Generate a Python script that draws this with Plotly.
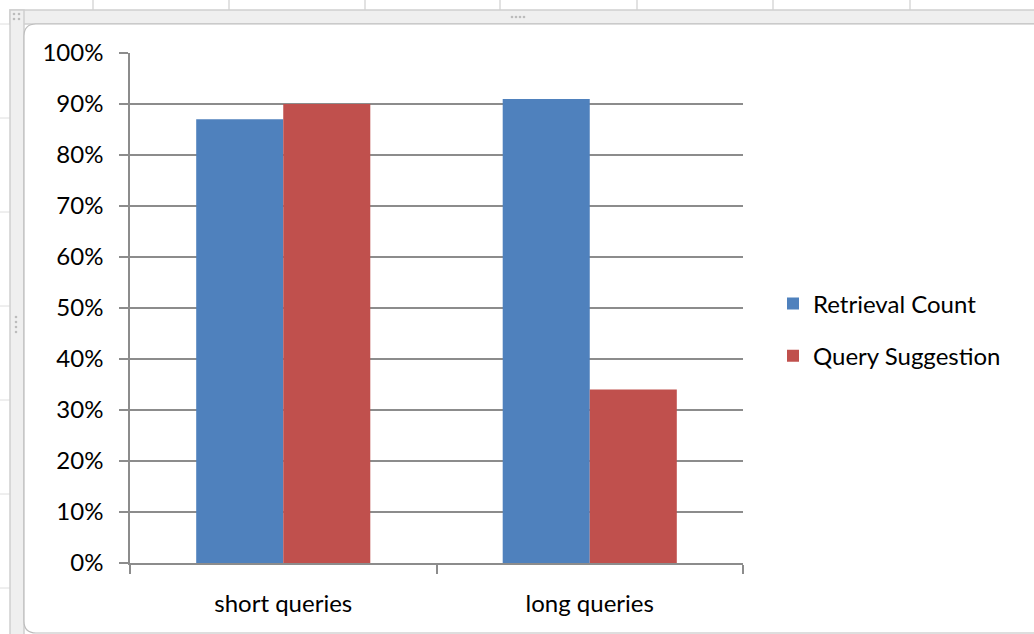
import plotly.graph_objects as go

# Data
categories = ["short queries", "long queries"]
retrieval_count = [0.87, 0.91]
query_suggestion = [0.90, 0.34]
y_ticks = [0, 0.1, 0.2, 0.3, 0.4, 0.5, 0.6, 0.7, 0.8, 0.9, 1.0]

W, H = 1034, 634
L, R, T, B = 130, 291, 53, 71
PW, PH = W - L - R, H - T - B

FONT = "Lato"
FSIZE = 24
GRID = "#8c8c8c"


def px(x):
    return (x - L) / PW


def py(y):
    return (H - B - y) / PH


fig = go.Figure()
fig.add_trace(go.Bar(name="Retrieval Count", x=categories, y=retrieval_count,
                     marker=dict(color="#4f81bd", line=dict(width=0)),
                     legendgroup="a"))
fig.add_trace(go.Bar(name="Query Suggestion", x=categories, y=query_suggestion,
                     marker=dict(color="#c0504d", line=dict(width=0)),
                     legendgroup="b"))

# Spreadsheet frame behind the chart object
shapes = []
# column lines of the sheet above the chart
for cx in [93, 229, 365, 500, 637, 773, 910]:
    shapes.append(dict(type="line", xref="paper", yref="paper",
                       x0=px(cx), x1=px(cx), y0=py(0), y1=py(24),
                       line=dict(color="#d8d8d8", width=1.5), layer="below"))
# row lines of the sheet left of the chart
for ry in [24, 118, 212, 306, 400, 494, 588]:
    shapes.append(dict(type="line", xref="paper", yref="paper",
                       x0=px(0), x1=px(10), y0=py(ry), y1=py(ry),
                       line=dict(color="#dedede", width=1), layer="below"))
# grey selection band (top and left)
shapes.append(dict(type="rect", xref="paper", yref="paper",
                   x0=px(10), x1=px(W + 5), y0=py(10), y1=py(24),
                   fillcolor="#efefef", line=dict(color="#cfcfcf", width=1.5),
                   layer="below"))
shapes.append(dict(type="rect", xref="paper", yref="paper",
                   x0=px(10), x1=px(24), y0=py(10), y1=py(H + 5),
                   fillcolor="#efefef", line=dict(color="#cfcfcf", width=1.5),
                   layer="below"))
# chart area with rounded corners
r = 12
x0, y0, x1, y1 = 24, 24, W + 20, 633
path = (f"M {px(x0)},{py(y0 + r)} Q {px(x0)},{py(y0)} {px(x0 + r)},{py(y0)} "
        f"L {px(x1)},{py(y0)} L {px(x1)},{py(y1)} L {px(x0 + r)},{py(y1)} "
        f"Q {px(x0)},{py(y1)} {px(x0)},{py(y1 - r)} Z")
shapes.append(dict(type="path", xref="paper", yref="paper", path=path,
                   fillcolor="white", line=dict(color="#bdbdbd", width=1.2),
                   layer="below"))

# resize grip dots
grips = [(14, 14), (19, 14), (14, 19), (19, 19),
         (512, 17), (516, 17), (520, 17), (524, 17),
         (16, 317), (16, 322), (16, 327), (16, 332)]
for gx, gy in grips:
    shapes.append(dict(type="circle", xref="paper", yref="paper",
                       x0=px(gx - 1.3), x1=px(gx + 1.3),
                       y0=py(gy - 1.3), y1=py(gy + 1.3),
                       fillcolor="#bcbcbc", line=dict(width=0), layer="below"))

fig.update_layout(
    width=W, height=H,
    margin=dict(l=L, r=R, t=T, b=B, pad=0),
    paper_bgcolor="white",
    plot_bgcolor="rgba(0,0,0,0)",
    barmode="group",
    bargap=0.432,
    bargroupgap=0,
    font=dict(family=FONT, size=FSIZE, color="#000000"),
    shapes=shapes,
    legend=dict(
        x=px(773), y=py(330), xanchor="left", yanchor="middle",
        font=dict(family=FONT, size=FSIZE, color="#000000"),
        bgcolor="rgba(0,0,0,0)",
        tracegroupgap=18,
        itemwidth=30,
        traceorder="grouped",
    ),
    xaxis=dict(
        type="category",
        showline=True, linecolor=GRID, linewidth=1.5,
        ticks="outside", ticklen=9, tickwidth=1.5, tickcolor=GRID,
        tickson="boundaries",
        showgrid=False,
        ticklabelstandoff=18,
        tickfont=dict(family=FONT, size=FSIZE, color="#000000"),
    ),
    yaxis=dict(
        range=[0, 1],
        tickvals=y_ticks,
        tickformat=".0%",
        showline=True, linecolor=GRID, linewidth=1.5,
        ticks="outside", ticklen=9, tickwidth=1.5, tickcolor=GRID,
        showgrid=True, gridcolor=GRID, gridwidth=1.5,
        zeroline=False,
        ticklabelstandoff=11,
        tickfont=dict(family=FONT, size=FSIZE, color="#000000"),
    ),
)

fig.write_html("out.html")
